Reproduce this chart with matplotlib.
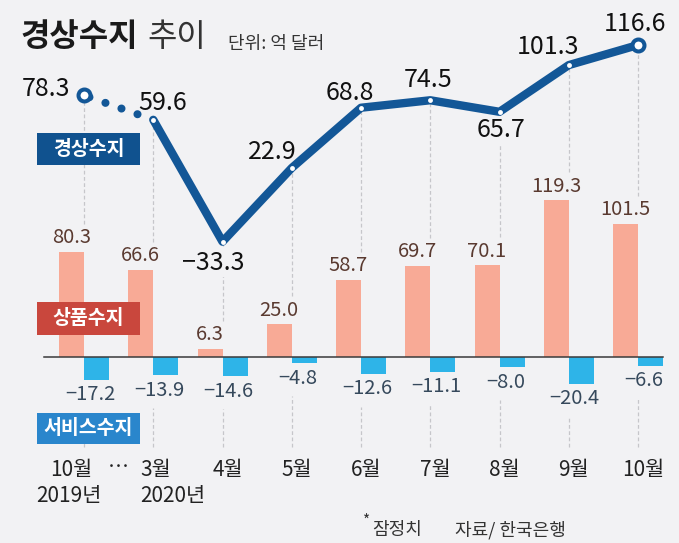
import numpy as np
import matplotlib
matplotlib.use("Agg")
import matplotlib.pyplot as plt
from matplotlib.patches import Rectangle

plt.rcParams['font.family'] = ['Noto Sans CJK KR', 'DejaVu Sans']

# data (억 달러)
months = ['10월', '3월', '4월', '5월', '6월', '7월', '8월', '9월', '10월']
years = ['2019년', '2020년']
current = [78.3, 59.6, -33.3, 22.9, 68.8, 74.5, 65.7, 101.3, 116.6]
goods = [80.3, 66.6, 6.3, 25.0, 58.7, 69.7, 70.1, 119.3, 101.5]
services = [-17.2, -13.9, -14.6, -4.8, -12.6, -11.1, -8.0, -20.4, -6.6]

# layout (pixels)
W, H = 679, 543
X0, STEP = 84, 69.25        # first category centre, spacing
BASE = 357                  # bar zero line
LINE_ZERO = 198             # zero of the current-account line
PPU = 1.312                 # pixels per 억 달러

BG = '#f2f2f4'
LINE = '#135797'
GOODS = '#f8aa96'
SERV = '#2eb4e8'
DASH = '#c6c6ca'

# label offsets for the line values (dx, dy, ha) in pixels
line_lbl = [(-14, 6, 'right'), (9, 17, 'center'), (-9, -21, 'center'), (-19, 16, 'center'),
            (-11, 15, 'center'), (-2, 20, 'center'), (1, -18, 'center'), (-21, 18, 'center'),
            (-3, 21, 'center')]


def fx(px):
    return px / W


def fy(py):
    return 1 - py / H


fig = plt.figure(figsize=(W / 100, H / 100), dpi=100, facecolor=BG)
ax = fig.add_axes([0, 0, 1, 1])
ax2 = ax.twinx()
for a in (ax, ax2):
    a.axis('off')
    a.set_xlim(-X0 / STEP, (W - X0) / STEP)
ax.set_ylim((BASE - H) / PPU, BASE / PPU)
ax2.set_ylim((LINE_ZERO - H) / PPU, LINE_ZERO / PPU)

x = np.arange(len(months))
off = 12.5 / STEP
bw = 25 / STEP

# dashed guides
for i in range(len(x)):
    ytop_px = ax2.transData.transform((x[i], current[i]))[1]
    ytop = ax.transData.inverted().transform((0, ytop_px))[1]
    ax.vlines(x[i], goods[i] + 28 / PPU, ytop, color=DASH, lw=0.9,
              linestyles=(0, (3, 2)), zorder=0)
    ax.vlines(x[i], (BASE - 447) / PPU, services[i] - 33 / PPU, color=DASH, lw=0.9,
              linestyles=(0, (3, 2)), zorder=0)

# bars
ax.bar(x - off, goods, width=bw, color=GOODS, zorder=2)
ax.bar(x + off, services, width=bw, color=SERV, zorder=2)
ax.axhline(0, xmin=fx(44), xmax=fx(663), color='#3a3a3a', lw=1.1, zorder=3)

for i, v in enumerate(goods):
    ax.annotate(f'{v:.1f}', (x[i] - off, v), xytext=(0, 14), textcoords='offset pixels',
                ha='center', va='center', fontsize=14.5, color='#5a3a30', zorder=4)
for i, v in enumerate(services):
    ax.annotate(f'−{abs(v):.1f}', (x[i], v), xytext=(6, -15), textcoords='offset pixels',
                ha='center', va='center', fontsize=14.5, color='#36495c', zorder=4)

# current account line
ax2.plot(x[:2], current[:2], color=LINE, lw=5.8, linestyle=(1.4, (0.01, 2.1)),
         dash_capstyle='round', zorder=2)
ax2.plot(x[1:], current[1:], color=LINE, lw=6, solid_joinstyle='round',
         solid_capstyle='round', zorder=2)
ax2.plot(x[1:-1], current[1:-1], 'o', ms=3.5, mfc='white', mec='none', zorder=3)
ax2.plot(x[[0, -1]], [current[0], current[-1]], 'o', ms=8.6, mfc='white', mec=LINE,
         mew=2.9, zorder=3)
for i, v in enumerate(current):
    dx, dy, ha = line_lbl[i]
    txt = f'{v:.1f}' if v >= 0 else f'−{abs(v):.1f}'
    ax2.annotate(txt, (x[i], v), xytext=(dx, dy), textcoords='offset pixels',
                 ha=ha, va='center', fontsize=18, fontweight='medium', color='#111111',
                 zorder=1, bbox=dict(boxstyle='square,pad=0.05', fc=BG, ec='none'))

# month labels
MCOL = '#222222'
for i, m in enumerate(months):
    if i == 0:
        ax.text(x[i] - 13 / STEP, fy(470), m, transform=ax.get_xaxis_transform(),
                ha='center', va='center', fontsize=15, color=MCOL)
        ax.text(x[i] - 15 / STEP, fy(496), years[0], transform=ax.get_xaxis_transform(),
                ha='center', va='center', fontsize=15, color=MCOL)
    elif i == 1:
        ax.text(x[i] - 13 / STEP, fy(470), m, transform=ax.get_xaxis_transform(),
                ha='left', va='center', fontsize=15, color=MCOL)
        ax.text(x[i] - 13 / STEP, fy(496), years[1], transform=ax.get_xaxis_transform(),
                ha='left', va='center', fontsize=15, color=MCOL)
    else:
        ax.text(x[i] + 5 / STEP, fy(470), m, transform=ax.get_xaxis_transform(),
                ha='center', va='center', fontsize=15, color=MCOL)
fig.text(fx(118), fy(468), '⋯', ha='center', va='center', fontsize=15, color=MCOL)

# title
fig.text(fx(20), fy(37), '경상수지', ha='left', va='center', fontsize=23,
         fontweight='bold', color='#1a1a1a')
fig.text(fx(147), fy(37), '추이', ha='left', va='center', fontsize=23,
         fontweight='light', color='#333333')
fig.text(fx(228), fy(44), '단위: 억 달러', ha='left', va='center', fontsize=13,
         color='#333333')

# series tags
tags = [('경상수지', '#10528f', 133, 165), ('상품수지', '#c9473d', 302, 335),
        ('서비스수지', '#2a86cc', 413, 444)]
for name, col, y0, y1 in tags:
    fig.patches.append(Rectangle((fx(37), fy(y1)), fx(140) - fx(37), fy(y0) - fy(y1),
                                 transform=fig.transFigure, facecolor=col,
                                 edgecolor='none', zorder=5))
    fig.text(fx(88.5), fy((y0 + y1) / 2), name, ha='center', va='center', fontsize=14,
             fontweight='bold', color='white', zorder=6)

# footer
fig.text(fx(363), fy(521), '*', ha='left', va='center', fontsize=11, color='#333333')
fig.text(fx(372), fy(530), '잠정치', ha='left', va='center', fontsize=13, color='#333333')
fig.text(fx(455), fy(530), '자료/ 한국은행', ha='left', va='center', fontsize=13,
         color='#333333')

fig.savefig('out.png', dpi=100, facecolor=BG)
